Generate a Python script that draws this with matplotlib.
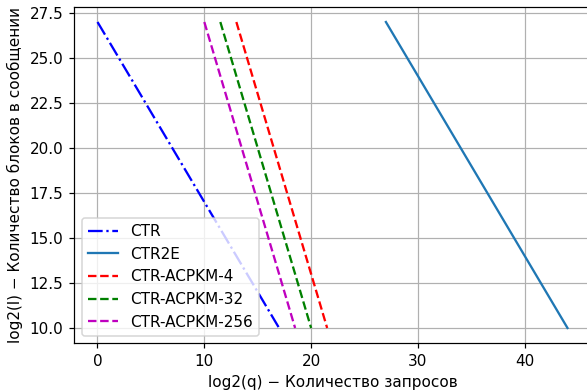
import matplotlib
matplotlib.use('Agg')
import matplotlib.pyplot as plt

# data
l_ra = [27, 10]                    # log2(l), block count
q_ctr = [0, 17]
q_ctr2e = [27, 44]
q_acpkm4 = [13, 21.5]
q_acpkm32 = [11.5, 20]
q_acpkm256 = [10, 18.5]

DPI = 110
fig = plt.figure(figsize=(587 / DPI, 390 / DPI), dpi=DPI)
# axes placed as in the reference (right spine falls just past the edge)
ax = fig.add_axes([74 / 587, (390 - 343.3) / 390,
                   (591 - 74) / 587, (343.3 - 6.7) / 390])

ax.plot(q_ctr, l_ra, 'b-.', label='CTR')
ax.plot(q_ctr2e, l_ra, label='CTR2E')
ax.plot(q_acpkm4, l_ra, 'r--', label='CTR-ACPKM-4')
ax.plot(q_acpkm32, l_ra, 'g--', label='CTR-ACPKM-32')
ax.plot(q_acpkm256, l_ra, 'm--', label='CTR-ACPKM-256')

ax.set_xlabel('log2(q) \u2212 Количество запросов')
ax.set_ylabel('log2(l) \u2212 Количество блоков в сообщении')
ax.grid(True)
ax.legend(loc='lower left')

fig.savefig('out.png', dpi=DPI)
